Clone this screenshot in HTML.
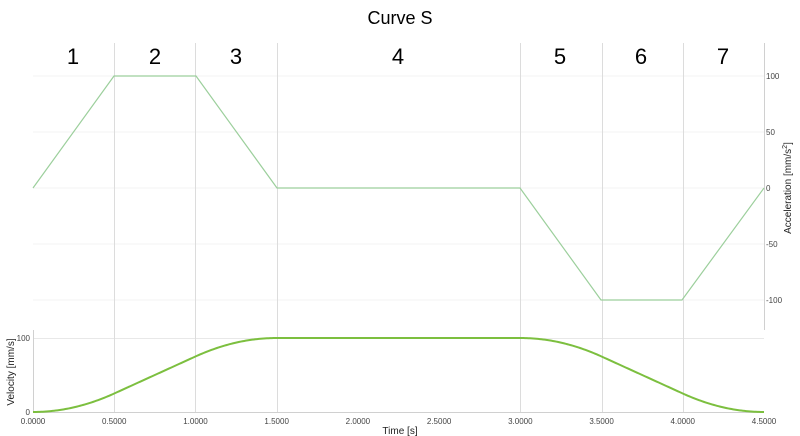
<!DOCTYPE html>
<html><head><meta charset="utf-8"><style>
html,body{margin:0;padding:0;background:#fff;}
svg{display:block;font-family:"Liberation Sans",sans-serif;}
</style></head><body>
<svg id="s" width="800" height="436" viewBox="0 0 800 436">
<text x="400" y="24" font-size="18" text-anchor="middle" fill="#000">Curve S</text>
<g stroke="#f3f3f3" stroke-width="1">
<line x1="33" y1="76" x2="764" y2="76"/><line x1="33" y1="132" x2="764" y2="132"/>
<line x1="33" y1="188" x2="764" y2="188"/><line x1="33" y1="244" x2="764" y2="244"/>
<line x1="33" y1="300" x2="764" y2="300"/>
</g>
<line x1="33" y1="338.5" x2="764" y2="338.5" stroke="#e8e8e8"/>
<g stroke="#dcdcdc" stroke-width="1" id="vg"></g>
<line x1="33" y1="412.5" x2="764" y2="412.5" stroke="#d0d0d0"/>
<line x1="764.5" y1="43" x2="764.5" y2="330" stroke="#d0d0d0"/>
<line x1="33.5" y1="330" x2="33.5" y2="412" stroke="#d0d0d0"/>
<g font-size="22" text-anchor="middle" fill="#000">
<text x="73" y="64">1</text><text x="155" y="64">2</text><text x="236" y="64">3</text>
<text x="398" y="64">4</text><text x="560" y="64">5</text><text x="641" y="64">6</text><text x="723" y="64">7</text>
</g>
<g font-size="8" fill="#444">
<text x="766" y="79">100</text><text x="766" y="135">50</text><text x="766" y="191">0</text>
<text x="766" y="247">-50</text><text x="766" y="303">-100</text>
<text x="30" y="341" text-anchor="end">100</text><text x="30" y="415" text-anchor="end">0</text>
</g>
<g font-size="8" fill="#444" text-anchor="middle" id="xl"></g>
<text x="400" y="434" font-size="10" text-anchor="middle" fill="#222">Time [s]</text>
<text transform="translate(14,372) rotate(-90)" font-size="10" text-anchor="middle" fill="#222">Velocity [mm/s]</text>
<text transform="translate(791,188) rotate(-90)" font-size="10" text-anchor="middle" fill="#222">Acceleration [mm/s<tspan font-size="7" dy="-4">2</tspan><tspan dy="4">]</tspan></text>
<polyline fill="none" stroke="#9ccf9c" stroke-width="1.2" points="33,188 114,76 196,76 277,188 520,188 601,300 682,300 764,188"/>
<path id="v" fill="none" stroke="#7cbf3f" stroke-width="2"/>
</svg>
<script>
var X=function(t){return 33+t*(731/4.5)};
var vg=document.getElementById('vg'),xl=document.getElementById('xl'),ns='http://www.w3.org/2000/svg';
for(var i=0;i<=9;i++){var t=i*0.5,x=Math.round(X(t))+0.5;
 if(i>0&&i<9&&i!=4&&i!=5){var l=document.createElementNS(ns,'line');l.setAttribute('x1',x);l.setAttribute('x2',x);l.setAttribute('y1',43);l.setAttribute('y2',412);vg.appendChild(l);}
 var tx=document.createElementNS(ns,'text');tx.setAttribute('x',X(t));tx.setAttribute('y',424);tx.textContent=t.toFixed(4);xl.appendChild(tx);}
function v(t){
 if(t<=0.5)return 100*t*t;
 if(t<=1)return 25+100*(t-0.5);
 if(t<=1.5){var u=t-1;return 75+100*u-100*u*u;}
 if(t<=3)return 100;
 return v(1.5-(t-3));
}
var d='';for(var k=0;k<=450;k++){var t=k/100;var y=412-v(t)*0.74;d+=(k?'L':'M')+X(t).toFixed(2)+','+y.toFixed(2);}
document.getElementById('v').setAttribute('d',d);
</script>
</body></html>
